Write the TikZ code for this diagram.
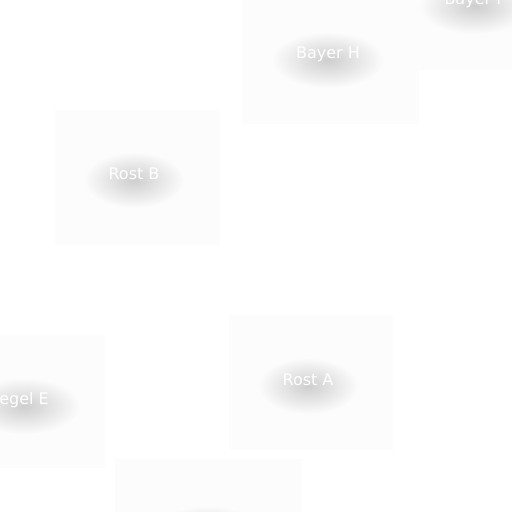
\documentclass[tikz,border=0pt]{standalone}
\usepackage{fontspec}
\setmainfont{DejaVu Sans}
\usetikzlibrary{fadings}
\definecolor{boxfill}{RGB}{252,252,252}
\tikzfading[name=halo, inner color=transparent!10, outer color=transparent!100]
\tikzset{
  panel/.style={fill=boxfill, draw=none, inner sep=0pt},
  lbl/.style={text=white, font=\fontsize{16}{19}\selectfont, inner sep=0pt},
  glow/.style={fill=black, fill opacity=0.2, path fading=halo, fit fading=true}
}
\begin{document}
\begin{tikzpicture}[x=1pt,y=-1pt]
\useasboundingbox (0,0) rectangle (512,512);
% panels
\node[panel, minimum width=177pt, minimum height=140pt] (bhbox) at (330.5,54) {};
\node[panel, minimum width=168pt, minimum height=140pt] (bfbox) at (476,0) {};
\node[panel, minimum width=165pt, minimum height=135pt] (rbbox) at (137.5,177.5) {};
\node[panel, minimum width=164pt, minimum height=135pt] (rabox) at (311,382.5) {};
\node[panel, minimum width=166pt, minimum height=133pt] (iebox) at (22,401.5) {};
\node[panel, minimum width=187pt, minimum height=134pt] (bottombox) at (208.5,526) {};
% halos
\fill[glow] (328,60) ellipse [x radius=56pt, y radius=28pt];
\fill[glow] (475,6) ellipse [x radius=56pt, y radius=28pt];
\fill[glow] (134,180) ellipse [x radius=50pt, y radius=28pt];
\fill[glow] (308,386) ellipse [x radius=50pt, y radius=28pt];
\fill[glow] (24,406) ellipse [x radius=56pt, y radius=28pt];
\fill[glow] (207,534) ellipse [x radius=56pt, y radius=28pt];
% labels
\node[lbl] (bh) at (328,54) {Bayer H};
\node[lbl] (bf) at (475,0) {Bayer F};
\node[lbl] (rb) at (134,174) {Rost B};
\node[lbl] (ra) at (308,380) {Rost A};
\node[lbl, anchor=east] (ie) at (49,400) {Siegel E};
\end{tikzpicture}
\end{document}
